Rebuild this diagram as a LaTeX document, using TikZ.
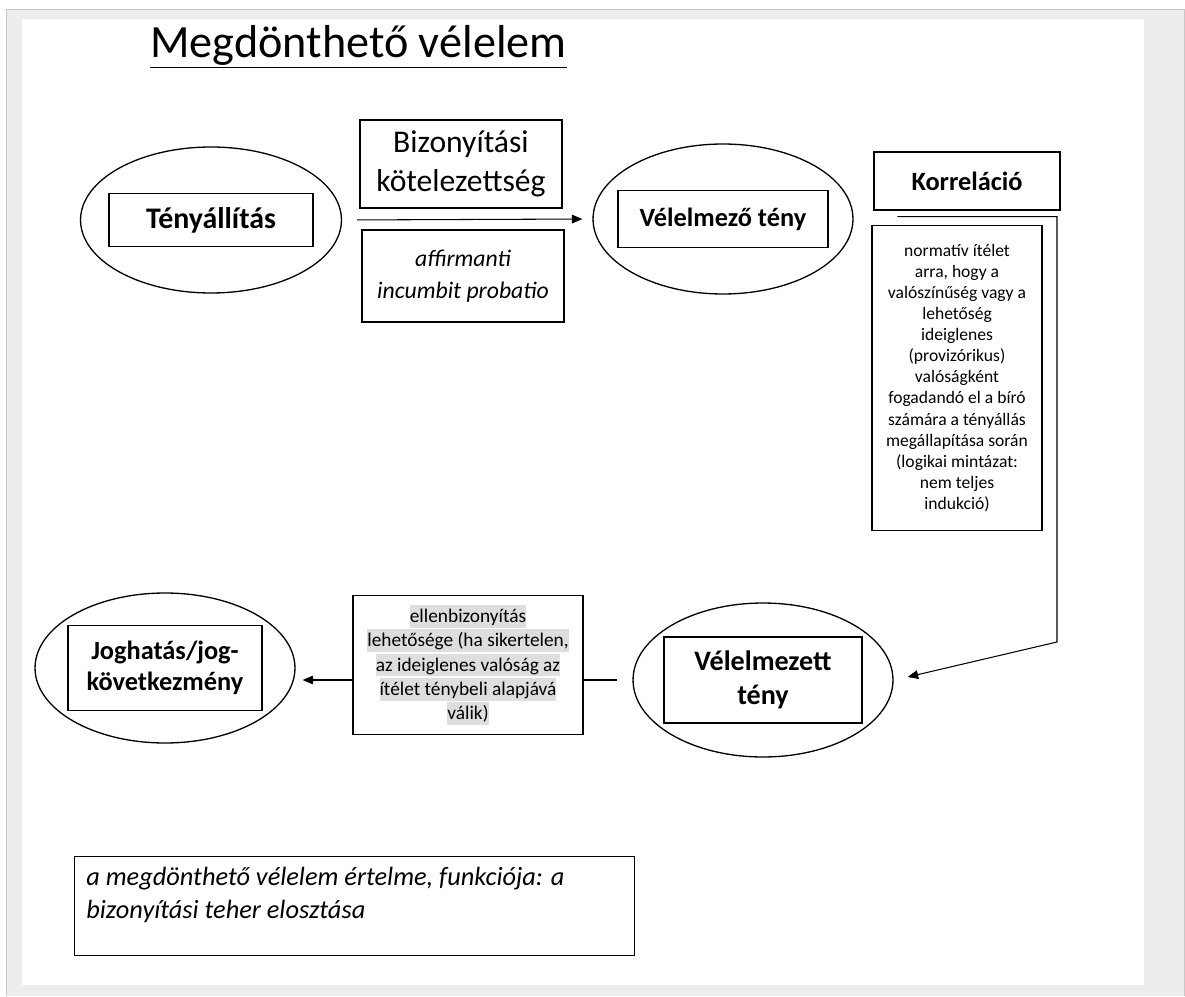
\documentclass[tikz,border=0pt]{standalone}
\usepackage{fontspec}
\setmainfont{Carlito}
\usetikzlibrary{positioning, shapes.geometric, arrows.meta, calc}
\definecolor{hlgray}{RGB}{222,222,222}
\definecolor{pagegray}{RGB}{237,237,237}
\definecolor{framegray}{RGB}{200,200,200}
\newcommand{\hlline}[1]{{\setlength{\fboxsep}{0pt}\colorbox{hlgray}{\rule[-3pt]{0pt}{13pt}#1}}}

\begin{document}
\begin{tikzpicture}[x=0.02cm, y=-0.02cm,
	oval/.style={draw, ellipse, line width=0.75pt, inner sep=0pt},
	lbl/.style={draw, line width=0.75pt, inner sep=0pt, align=center, font=\fontsize{15}{18}\selectfont\bfseries},
	txtbox/.style={draw, line width=0.75pt, inner sep=0pt, align=center},
	link/.style={line width=0.6pt, -{Triangle[length=6pt, width=5pt]}}]
	\useasboundingbox (0,0) rectangle (1185,996);
	% page
	\fill[pagegray] (6,9) rectangle (1185,996);
	\draw[framegray, line width=1pt] (6.5,996) -- (6.5,9.5) -- (1184.5,9.5) -- (1184.5,996);
	\fill[white] (22,19) rectangle (1144,985);

	\node[anchor=base west, inner sep=0pt, font=\fontsize{26.3}{31}\selectfont] (title) at (150,58) {Megdönthető vélelem};
	\draw[line width=1.1pt] ([yshift=-5.4pt]title.base west) -- ([yshift=-5.4pt]title.base east);

	% upper row
	\node[oval, minimum width=5.22cm, minimum height=2.92cm] (tenyOval) at (211,220) {};
	\node[lbl, minimum width=4.08cm, minimum height=1.06cm, font=\fontsize{17}{20}\selectfont\bfseries] (teny) at (tenyOval) {Tényállítás};
	\node[txtbox, minimum width=4.04cm, minimum height=1.76cm, font=\fontsize{18}{22}\selectfont] (bizony) at (461,164) {Bizonyítási\\ kötelezettség};
	\node[txtbox, minimum width=4.04cm, minimum height=1.84cm, font=\fontsize{13.5}{18}\selectfont\itshape] (affirm) at (463,276) {affirmanti\\ incumbit probatio};
	\node[oval, minimum width=5.2cm, minimum height=3cm] (velOval) at (723,219) {};
	\node[lbl, minimum width=4.2cm, minimum height=1.14cm] (vel) at (velOval) {Vélelmező tény};
	\node[lbl, minimum width=3.72cm, minimum height=1.16cm] (korr) at (967,181) {Korreláció};
	\node[txtbox, minimum width=3.4cm, minimum height=6.1cm, font=\fontsize{10}{12}\selectfont] (norm) at (957,378) {normatív ítélet\\ arra, hogy a\\ valószínűség vagy a\\ lehetőség\\ ideiglenes\\ (provizórikus)\\ valóságként\\ fogadandó el a bíró\\ számára a tényállás\\ megállapítása során\\ (logikai mintázat:\\ nem teljes\\ indukció)};

	% lower row
	\node[oval, minimum width=5.2cm, minimum height=3.08cm] (veltOval) at (763,680) {};
	\node[lbl, minimum width=3.96cm, minimum height=1.72cm, font=\fontsize{16}{19.5}\selectfont\bfseries] (velt) at (veltOval) {Vélelmezett\\ tény};
	\node[txtbox, minimum width=4.6cm, minimum height=2.78cm, font=\fontsize{11}{13.9}\selectfont] (ellen) at (468,665) {\hlline{ellenbizonyítás}\\ \hlline{lehetősége (ha sikertelen,}\\ \hlline{az ideiglenes valóság az}\\ \hlline{ítélet ténybeli alapjává}\\ \hlline{válik)}};
	\node[oval, minimum width=5.2cm, minimum height=3cm] (jogOval) at (165,668) {};
	\node[lbl, minimum width=3.88cm, minimum height=1.7cm] (jog) at (jogOval) {Joghatás/jog-\\ következmény};

	% note
	\node[draw, line width=0.75pt, anchor=north west, minimum width=11.2cm, minimum height=1.98cm] (noteBox) at (74,856) {};
	\node[anchor=north west, inner sep=0pt, align=left, font=\fontsize{15}{18.5}\selectfont\itshape] (noteText) at (86,867) {a megdönthető vélelem értelme, funkciója: a\\ bizonyítási teher elosztása};

	% connectors
	\coordinate (korrBend) at (1057,642);
	\draw[link, shorten <=0.3cm, shorten >=0.2cm] (tenyOval.east) -- (velOval.west);
	\draw[link] ([xshift=0.48cm, yshift=-0.12cm]korr.south west) -| (korrBend) -- ([xshift=0.28cm, yshift=0.06cm]veltOval.east);
	\draw[line width=0.6pt, shorten <=0.3cm] (veltOval.west) -- (ellen.east |- veltOval.west);
	\draw[link, shorten >=0.14cm] (ellen.west |- veltOval.west) -- (jogOval.east |- veltOval.west);
\end{tikzpicture}
\end{document}
